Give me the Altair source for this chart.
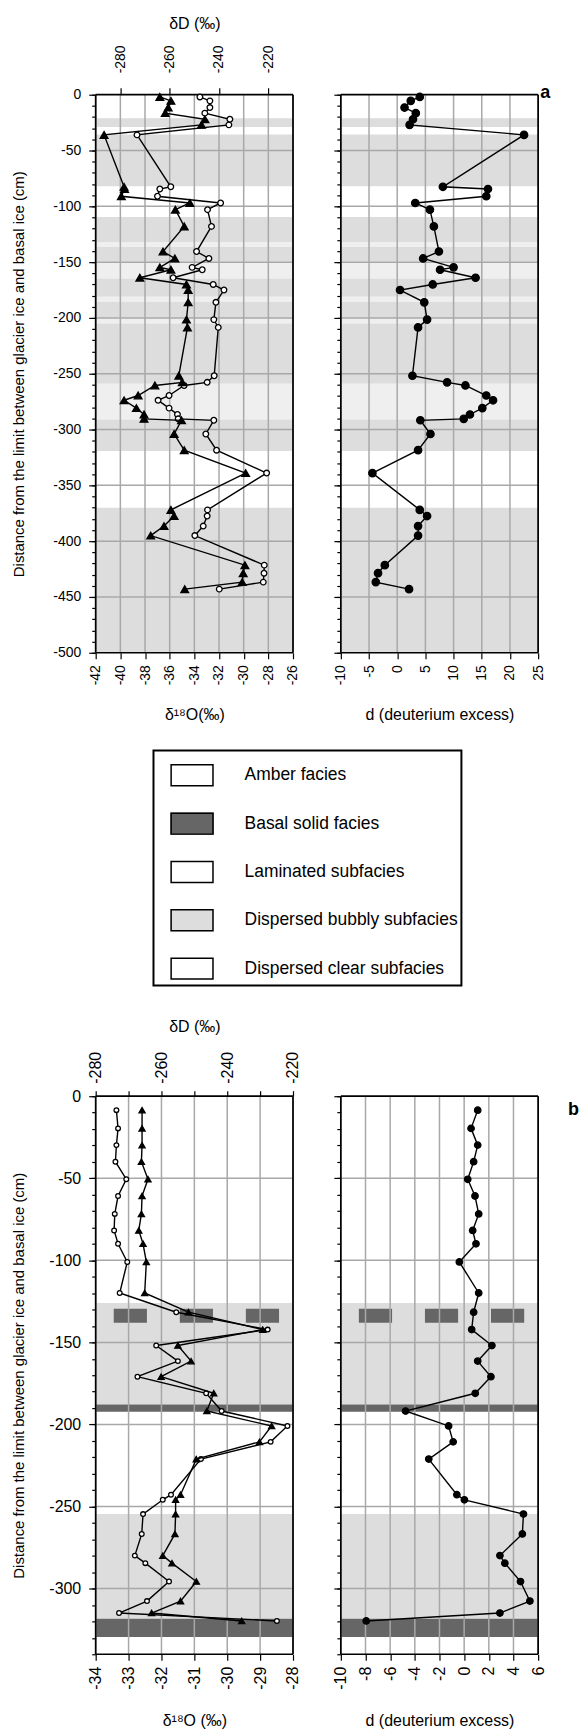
import altair as alt
import pandas as pd

# ---------------- panel a data ----------------
A_DEPTH = [-2, -5.5, -11.5, -16.5, -22, -27, -36, -82.5, -84.5, -91, -97, -103, -118, -140.5,
           -146.7, -154.7, -156.8, -164, -170, -175, -186, -201.5, -208.5, -251.8, -257.7, -260.5,
           -269.5, -273.8, -280.8, -286.5, -290.4, -291.7, -304, -318.5, -339, -372, -377.5,
           -386.5, -395, -421.5, -428.7, -436.7, -443]
A_D18O = [-33.55, -32.74, -32.74, -33.15, -31.12, -31.20, -38.65, -35.91, -36.80, -36.99, -31.87,
          -32.93, -32.61, -33.82, -32.82, -34.18, -33.36, -35.72, -32.47, -31.60, -32.25, -32.42,
          -32.06, -32.39, -32.96, -34.83, -36.05, -36.94, -36.05, -35.37, -35.31, -32.42, -33.07,
          -32.20, -28.14, -32.93, -32.96, -33.28, -33.96, -28.33, -28.35, -28.41, -31.98]
A_DD = [-264.0, -259.5, -260.6, -261.8, -245.7, -247.1, -286.6, -278.5, -278.3, -279.6, -251.8,
        -257.7, -254.1, -262.7, -257.9, -264.0, -259.5, -272.1, -253.2, -252.5, -252.5, -253.2,
        -252.8, -256.3, -254.9, -266.0, -272.8, -278.5, -273.5, -270.4, -270.4, -255.2, -258.2,
        -254.1, -229.2, -259.5, -258.2, -262.3, -267.7, -229.5, -230.2, -230.6, -253.9]
A_DEX = [4.0, 2.4, 1.3, 3.3, 2.8, 2.2, 22.5, 8.1, 16.1, 15.8, 3.2, 5.8, 6.5, 7.4, 4.6, 10.0, 7.6,
         13.9, 6.3, 0.5, 4.8, 5.3, 3.7, 2.7, 8.85, 12.1, 15.8, 17.0, 15.1, 12.9, 11.8, 4.1, 5.9,
         3.7, -4.4, 4.0, 5.3, 3.7, 3.7, -2.2, -3.4, -3.8, 2.1]
A_BAND_TOP = [-21, -35.7, -109.5, -132.5, -136.5, -149.6, -164.6, -181, -185.4, -200.4, -205,
              -259, -291, -370]
A_BAND_BOTTOM = [-29, -82, -132.5, -136.5, -149.6, -164.6, -181, -185.4, -200.4, -205, -259,
                 -291, -319.3, -500]
A_BAND_FACIES = ["Dispersed bubbly subfacies", "Dispersed bubbly subfacies",
                 "Dispersed bubbly subfacies", "Laminated subfacies",
                 "Dispersed bubbly subfacies", "Laminated subfacies",
                 "Dispersed bubbly subfacies", "Laminated subfacies",
                 "Dispersed bubbly subfacies", "Laminated subfacies",
                 "Dispersed bubbly subfacies", "Laminated subfacies",
                 "Dispersed bubbly subfacies", "Dispersed bubbly subfacies"]

# ---------------- panel b data ----------------
B_DEPTH = [-8.5, -19.6, -29.8, -39.9, -50.6, -60.8, -71.7, -81.8, -89.9, -101, -119.9, -131.6,
           -142.2, -151.9, -161.4, -170.9, -181, -191.8, -200.9, -210.6, -221.1, -242.8, -245.9,
           -254.6, -266.7, -279.9, -284.5, -295.7, -307.6, -314.9, -319.7]
B_D18O = [-33.37, -33.32, -33.37, -33.40, -33.07, -33.32, -33.42, -33.44, -33.32, -33.04, -33.27,
          -31.55, -28.77, -32.16, -31.50, -32.73, -30.64, -30.17, -28.17, -28.68, -30.80, -31.71,
          -31.96, -32.56, -32.60, -32.81, -32.49, -31.77, -32.44, -33.29, -28.49]
B_DD = [-265.9, -265.9, -265.9, -266.1, -264.1, -265.9, -266.1, -266.9, -265.6, -264.6, -265.1,
        -251.8, -229.2, -255.0, -251.0, -260.1, -244.1, -246.2, -226.5, -230.2, -249.4, -254.2,
        -255.7, -255.7, -255.9, -259.6, -256.8, -249.4, -254.2, -263.0, -235.6]
B_DEX = [1.10, 0.56, 1.10, 0.77, 0.29, 0.88, 1.18, 0.69, 0.96, -0.39, 1.18, 0.77, 0.61, 2.25,
         1.10, 2.17, 0.9, -4.75, -1.26, -0.89, -2.87, -0.59, 0.02, 4.81, 4.72, 2.90, 3.30, 4.57,
         5.33, 2.90, -7.94]
B_BAND_TOP = [-126, -187.8, -254.6, -318.3]
B_BAND_BOTTOM = [-187.8, -192.2, -318.3, -329.5]
B_BAND_FACIES = ["Dispersed bubbly subfacies", "Basal solid facies",
                 "Dispersed bubbly subfacies", "Basal solid facies"]
B_LENS_DEPTH = [-133.7]
B_LENS_FACIES = ["Basal solid facies"]

FACIES = ["Amber facies", "Basal solid facies", "Laminated subfacies",
          "Dispersed bubbly subfacies", "Dispersed clear subfacies"]
PANEL_LABELS = ["a", "b"]

# ---------------- axes ticks / domains ----------------
A_Y_DOMAIN = [-500, 0]
A_X_DOMAIN = [-42, -26]
A_DD_DOMAIN = [-290, -210]
A_DEX_DOMAIN = [-10, 25]
A_Y_MAJOR = list(range(-500, 1, 50))
A_Y_MINOR = list(range(-500, 1, 10))
A_Y_GRID = list(range(-450, 0, 50))
A_X_TICKS = list(range(-42, -25, 2))
A_DD_TICKS = [-280, -260, -240, -220]
A_DEX_TICKS = list(range(-10, 26, 5))

B_Y_DOMAIN = [-340, 0]
B_X_DOMAIN = [-34, -28]
B_DD_DOMAIN = [-280, -220]
B_DEX_DOMAIN = [-10, 6]
B_Y_MAJOR = list(range(-300, 1, 50))
B_Y_MINOR = list(range(-340, 1, 10))
B_Y_GRID = list(range(-300, 0, 50))
B_X_TICKS = list(range(-34, -27, 1))
B_DD_TICKS = list(range(-280, -219, 10))
B_DEX_TICKS = list(range(-10, 7, 2))

# ---------------- style ----------------
FONT = "Liberation Sans"
W, H = 198, 560
GRID = "#a8a8a8"
LINE_W = 1.4
FRAME_W = 1.7
Y_TITLE = "Distance from the limit between glacier ice and basal ice (cm)"
RECT_PATH = "M-1,-0.5H1V0.5H-1Z"
FACIES_COLORS = ["#ffffff", "#666666", "#ffffff", "#dddddd", "#ffffff"]
OUTLINE_KEYS = [f + " outline" for f in FACIES]


def sc(domain):
    return alt.Scale(domain=domain, nice=False, zero=False)


def axis_y_major(values, labels, label_size=14, title_pad=20):
    common = dict(values=values, orient="left", tickSize=7, tickWidth=1.2, tickColor="black",
                  domain=False, grid=False, labelOverlap=False, labelFlush=False)
    if labels:
        return alt.Axis(labelExpr="'' + datum.value", labelFontSize=label_size, labelPadding=8,
                        titleFontSize=15, titlePadding=title_pad, **common)
    return alt.Axis(labels=False, **common)


def axis_y_minor(values):
    return alt.Axis(values=values, orient="left", tickSize=4, tickWidth=1.2, tickColor="black",
                    labels=False, domain=False, grid=False)


def axis_x(values, orient, label_size, tick, label_pad, title_pad, label_step=None):
    if label_step is None:
        expr = "'' + datum.value"
    else:
        expr = f"datum.value % {label_step} === 0 ? '' + datum.value : ''"
    return alt.Axis(values=values, orient=orient, labelAngle=270, labelExpr=expr,
                    labelFontSize=label_size, labelPadding=label_pad, tickSize=tick,
                    tickWidth=1.2, tickColor="black", titleFontSize=16, titlePadding=title_pad,
                    domain=False, grid=False, labelOverlap=False, labelFlush=False)


def vrules(values, xscale, color, width):
    return alt.Chart(pd.DataFrame({"v": values})).mark_rule(color=color, strokeWidth=width).encode(
        x=alt.X("v:Q", scale=xscale, axis=None))


def hrules(values, yscale, color, width, axis=None):
    return alt.Chart(pd.DataFrame({"v": values})).mark_rule(color=color, strokeWidth=width).encode(
        y=alt.Y("v:Q", scale=yscale, axis=axis, title=None))


def profile(df, xfield, xscale, xaxis, xtitle, yscale, yaxis, ytitle, shape, fill, size):
    line = alt.Chart(df).mark_line(color="black", strokeWidth=LINE_W).encode(
        x=alt.X(f"{xfield}:Q", scale=xscale, axis=xaxis, title=xtitle),
        y=alt.Y("depth:Q", scale=yscale, axis=yaxis, title=ytitle),
        order=alt.Order("depth:Q", sort="descending"))
    pts = alt.Chart(df).mark_point(shape=shape, filled=True, fill=fill, stroke="black",
                                   strokeWidth=1.3, size=size, opacity=1).encode(
        x=alt.X(f"{xfield}:Q", scale=xscale, axis=None),
        y=alt.Y("depth:Q", scale=yscale, axis=None))
    return [line, pts]


def panel_label(text, xdomain, xscale, ydomain, yscale, dx, dy):
    # letter anchored at the top-right corner of the panel (domain max, depth 0)
    df = pd.DataFrame({"label": [text], "x": [xdomain[1]], "y": [ydomain[1]]})
    return alt.Chart(df).mark_text(align="left", baseline="alphabetic", dx=dx, dy=dy, fontSize=18,
                                   fontWeight="bold", font=FONT, color="black").encode(
        x=alt.X("x:Q", scale=xscale, axis=None), y=alt.Y("y:Q", scale=yscale, axis=None),
        text="label:N")


def layer(*charts):
    return alt.layer(*charts).resolve_axis(x="independent", y="independent")


# ---------------- panel a ----------------
a_df = pd.DataFrame({"depth": A_DEPTH, "d18o": A_D18O, "dd": A_DD, "dex": A_DEX})
a_bands_df = pd.DataFrame({"top": A_BAND_TOP, "bottom": A_BAND_BOTTOM, "facies": A_BAND_FACIES})
a_y, a_x, a_dd, a_dx = sc(A_Y_DOMAIN), sc(A_X_DOMAIN), sc(A_DD_DOMAIN), sc(A_DEX_DOMAIN)


def a_bands():
    return alt.Chart(a_bands_df).mark_rect().encode(
        y=alt.Y("top:Q", scale=a_y, axis=None), y2="bottom:Q",
        fill=alt.Fill("facies:N", legend=None,
                      scale=alt.Scale(domain=["Dispersed bubbly subfacies", "Laminated subfacies"],
                                      range=["#dddddd", "#efefef"])))


a_inner = layer(
    a_bands(),
    vrules(A_X_TICKS, a_x, GRID, 1.5),
    hrules(A_Y_GRID, a_y, GRID, 1.5),
    vrules(A_X_DOMAIN, a_x, "black", FRAME_W),
    hrules(A_Y_DOMAIN, a_y, "black", FRAME_W),
    hrules(A_Y_MINOR, a_y, "black", 0, axis=axis_y_minor(A_Y_MINOR)),
    *profile(a_df, "d18o", a_x, axis_x(A_X_TICKS, "bottom", 14, 6, 6, 22), "δ¹⁸O(‰)",
             a_y, axis_y_major(A_Y_MAJOR, True, 14, 26.7), Y_TITLE, "circle", "white", 32),
)
a_tri = layer(*profile(a_df, "dd", a_dd, axis_x(A_DD_TICKS, "top", 14, 7, 15, 13), "δD (‰)",
                       a_y, None, None, "triangle-up", "black", 60))
a_left = alt.layer(a_inner, a_tri).resolve_scale(x="independent").properties(width=W, height=H)

a_right = layer(
    a_bands(),
    vrules(A_DEX_TICKS, a_dx, GRID, 1.5),
    hrules(A_Y_GRID, a_y, GRID, 1.5),
    vrules(A_DEX_DOMAIN, a_dx, "black", FRAME_W),
    hrules(A_Y_DOMAIN, a_y, "black", FRAME_W),
    hrules(A_Y_MINOR, a_y, "black", 0, axis=axis_y_minor(A_Y_MINOR)),
    *profile(a_df, "dex", a_dx, axis_x(A_DEX_TICKS, "bottom", 14, 6, 6, 22), "d (deuterium excess)",
             a_y, axis_y_major(A_Y_MAJOR, False), None, "circle", "black", 55),
    panel_label(PANEL_LABELS[0], A_DEX_DOMAIN, a_dx, A_Y_DOMAIN, a_y, 2, 3.3),
).properties(width=W, height=H)

# ---------------- panel b ----------------
b_df = pd.DataFrame({"depth": B_DEPTH, "d18o": B_D18O, "dd": B_DD, "dex": B_DEX})
b_bands_df = pd.DataFrame({"top": B_BAND_TOP, "bottom": B_BAND_BOTTOM, "facies": B_BAND_FACIES})
b_lens_df = pd.DataFrame({"depth": B_LENS_DEPTH, "facies": B_LENS_FACIES})
b_y, b_x, b_dd, b_dx = sc(B_Y_DOMAIN), sc(B_X_DOMAIN), sc(B_DD_DOMAIN), sc(B_DEX_DOMAIN)

LEGEND_GEOM = dict(orient="none", legendX=58, legendY=658, direction="vertical",
                   symbolSize=1764, symbolOffset=13.7, padding=3, rowPadding=12.5,
                   labelOffset=30.7, labelFont=FONT, labelFontSize=17.5, labelLimit=400)
legend_fill = alt.Legend(title=None, symbolType=RECT_PATH, labelColor="black",
                         strokeColor="black", **LEGEND_GEOM)
legend_outline = alt.Legend(title=None, symbolStrokeColor="black", symbolStrokeWidth=1.5,
                            symbolFillColor="transparent", symbolOpacity=1, labelExpr="''",
                            **LEGEND_GEOM)


def b_bands(with_legend):
    return alt.Chart(b_bands_df).mark_rect().encode(
        y=alt.Y("top:Q", scale=b_y, axis=None), y2="bottom:Q",
        color=alt.Color("facies:N", scale=alt.Scale(domain=FACIES, range=FACIES_COLORS),
                        legend=legend_fill if with_legend else None))


def b_lens():
    return alt.Chart(b_lens_df).mark_rule(strokeWidth=14, strokeDash=[33.3, 33],
                                         strokeDashOffset=52.3).encode(
        y=alt.Y("depth:Q", scale=b_y, axis=None),
        color=alt.Color("facies:N", scale=alt.Scale(domain=FACIES, range=FACIES_COLORS),
                        legend=None))


# invisible carrier whose shape legend draws the black swatch outlines over the fill legend
outline_carrier = alt.Chart(b_lens_df).transform_calculate(
    key=f"'{OUTLINE_KEYS[1]}'").mark_point(
    filled=False, color="black", strokeWidth=1.5, size=1764, opacity=0).encode(
    y=alt.Y("depth:Q", scale=b_y, axis=None),
    shape=alt.Shape("key:N", scale=alt.Scale(domain=OUTLINE_KEYS, range=[RECT_PATH] * 5),
                    legend=legend_outline))

b_inner = layer(
    b_bands(True),
    b_lens(),
    vrules(B_X_TICKS, b_x, GRID, 1.5),
    hrules(B_Y_GRID, b_y, GRID, 1.5),
    vrules(B_X_DOMAIN, b_x, "black", FRAME_W),
    hrules(B_Y_DOMAIN, b_y, "black", FRAME_W),
    hrules(B_Y_MINOR, b_y, "black", 0, axis=axis_y_minor(B_Y_MINOR)),
    outline_carrier,
    *profile(b_df, "d18o", b_x, axis_x(B_X_TICKS, "bottom", 16, 6, 6, 23), "δ¹⁸O (‰)",
             b_y, axis_y_major(B_Y_MAJOR, True, 16, 22.7), Y_TITLE, "circle", "white", 22),
)
b_tri = layer(*profile(b_df, "dd", b_dd, axis_x(B_DD_TICKS, "top", 16, 5.5, 7.5, 17, 20),
                       "δD (‰)", b_y, None, None, "triangle-up", "black", 38))
b_left = alt.layer(b_inner, b_tri).resolve_scale(x="independent").properties(width=W, height=H)

b_right = layer(
    b_bands(False),
    b_lens(),
    vrules(B_DEX_TICKS, b_dx, GRID, 1.5),
    hrules(B_Y_GRID, b_y, GRID, 1.5),
    vrules(B_DEX_DOMAIN, b_dx, "black", FRAME_W),
    hrules(B_Y_DOMAIN, b_y, "black", FRAME_W),
    hrules(B_Y_MINOR, b_y, "black", 0, axis=axis_y_minor(B_Y_MINOR)),
    *profile(b_df, "dex", b_dx, axis_x(B_DEX_TICKS, "bottom", 16, 6, 6, 23), "d (deuterium excess)",
             b_y, axis_y_major(B_Y_MAJOR, False), None, "circle", "black", 42),
    panel_label(PANEL_LABELS[1], B_DEX_DOMAIN, b_dx, B_Y_DOMAIN, b_y, 30, 19),
).properties(width=W, height=H)

chart = alt.concat(a_left, a_right, b_left, b_right, columns=2,
                   spacing={"row": 445, "column": 48}, bounds="flush").properties(
    padding={"left": 3, "top": 4, "right": 0, "bottom": 0},
    background="white",
).configure_view(strokeWidth=0).configure_axis(
    labelFont=FONT, titleFont=FONT, labelColor="black", titleColor="black",
    titleFontWeight="normal",
).configure_legend(strokeWidth=2)

chart.save("out.html", embed_options={"renderer": "svg", "actions": False})
